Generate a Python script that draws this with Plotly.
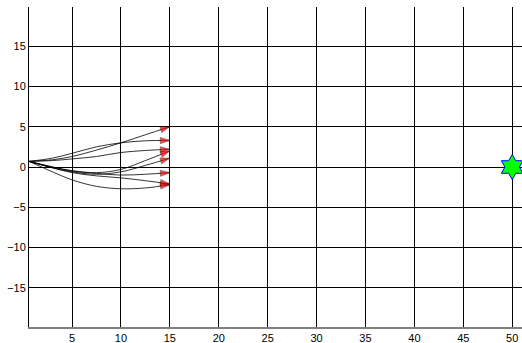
import plotly.graph_objects as go

# Trajectory sample x positions
x_pts = [0.6, 3, 5, 7.5, 10, 12.5, 15]

# Trajectory y values
traj_a = [0.7, 0.9, 1.3, 2.1, 3.0, 4.0, 5.0]
traj_b = [0.7, 1.1, 1.7, 2.5, 3.0, 3.25, 3.3]
traj_c = [0.7, 0.8, 1.0, 1.3, 1.8, 2.05, 2.2]
traj_d = [0.7, 0.0, -0.45, -0.7, -0.3, 0.8, 2.0]
traj_e = [0.7, -0.1, -0.6, -0.9, -0.6, 0.2, 1.1]
traj_f = [0.7, 0.0, -0.5, -0.8, -1.0, -0.9, -0.7]
traj_g = [0.7, -0.1, -0.7, -1.1, -1.35, -1.7, -2.1]
traj_h = [0.7, -0.6, -1.6, -2.4, -2.7, -2.6, -2.2]

target_x = [50]
target_y = [0]

x_ticks = [5, 10, 15, 20, 25, 30, 35, 40, 45, 50]
y_ticks = [-15, -10, -5, 0, 5, 10, 15]

fig = go.Figure()
for ys in [traj_a, traj_b, traj_c, traj_d, traj_e, traj_f, traj_g, traj_h]:
    n = len(ys)
    fig.add_trace(go.Scatter(
        x=x_pts, y=ys, mode="lines+markers",
        line=dict(color="black", width=0.8, shape="spline"),
        marker=dict(symbol="arrow", size=[0] * (n - 1) + [10], angleref="previous",
                    color="red", line=dict(color="black", width=0.5)),
        showlegend=False, hoverinfo="skip"))

fig.add_trace(go.Scatter(
    x=target_x, y=target_y, mode="markers",
    marker=dict(symbol="hexagram", size=19, color="#00ff00",
                line=dict(color="blue", width=1)),
    showlegend=False, cliponaxis=False))

fig.update_layout(
    width=522, height=343,
    margin=dict(l=29, r=0, t=7, b=16),
    paper_bgcolor="white", plot_bgcolor="white",
    font=dict(family="Liberation Sans, Arial, sans-serif", size=11, color="black"),
    xaxis=dict(range=[0.6, 51.0], tickvals=x_ticks, showgrid=True, gridcolor="black",
               gridwidth=1, zeroline=False, showline=True, linecolor="#808080",
               linewidth=1.5, ticks="", tickfont=dict(size=11)),
    yaxis=dict(range=[-19.85, 19.85], tickvals=y_ticks, showgrid=True, gridcolor="black",
               gridwidth=1, zeroline=False, showline=True, linecolor="black",
               linewidth=1, ticks="", tickfont=dict(size=11)),
)

fig.write_html("out.html", config={"displayModeBar": False},
               post_script="document.body.style.margin='0';")
